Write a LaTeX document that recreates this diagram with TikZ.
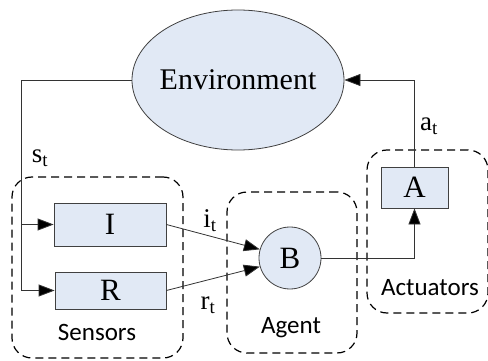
\documentclass[tikz,border=0pt]{standalone}
\usepackage{fontspec}
\setmainfont{Liberation Serif}
\newfontfamily\calfont{Carlito}
\usetikzlibrary{shapes.geometric,arrows.meta}
\definecolor{lb}{RGB}{225,233,245}
\tikzset{
  conn/.style={draw=black!80, line width=0.8pt},
  arr/.style={conn, -{Triangle[length=16pt,width=12pt,fill=black]}},
  boxnode/.style={draw=black!75, line width=0.8pt, fill=lb, inner sep=0pt, font=\fontsize{31}{31}\selectfont},
  groupbox/.style={draw=black, line width=1.2pt, dash pattern=on 8pt off 5pt, rounded corners=20pt, inner sep=0pt},
  grouplabel/.style={font=\calfont\fontsize{25}{25}\selectfont, inner sep=0pt},
  sublabel/.style={font=\fontsize{27}{27}\selectfont, inner sep=0pt}
}
\begin{document}
\begin{tikzpicture}[x=1pt,y=-1pt]
\useasboundingbox (0,0) rectangle (488,361);
% groups
\node[groupbox, minimum width=171pt, minimum height=181pt] (gsens) at (97.5,267.5) {};
\node[groupbox, minimum width=130pt, minimum height=161pt] (gagent) at (292,272.5) {};
\node[groupbox, minimum width=121pt, minimum height=163pt] (gact) at (427.5,231.5) {};
\node[grouplabel] (lsens) at (97,332) {Sensors};
\node[grouplabel] (lagent) at (291,328) {Agent};
\node[grouplabel] (lact) at (430,288) {Actuators};
% main nodes
\node[boxnode, ellipse, inner sep=-30pt, minimum width=212pt, minimum height=140pt, font=\fontsize{30}{30}\selectfont] (env) at (238,80) {Environment};
\node[boxnode, minimum width=112pt, minimum height=43pt] (I) at (110,224.5) {I};
\node[boxnode, minimum width=111pt, minimum height=37pt] (R) at (110.5,290.5) {R};
\node[boxnode, circle, minimum size=62pt] (B) at (290,258) {B};
\node[boxnode, minimum width=67pt, minimum height=41pt] (A) at (414.5,187.5) {A};
% connectors
\coordinate (cI) at (21,224.5);
\coordinate (cR) at (21,290.5);
\draw[arr] (env.west) -| (cR) -- (R.west);
\draw[arr] (cI) -- (I.west);
\draw[arr] (I.east) -- (B.164);
\draw[arr] (R.east) -- (B.196);
\draw[arr] (B.east) -| (A.south);
\draw[arr] (A.north) |- (env.east);
% labels
\node[sublabel] (st) at (40,158) {s\textsubscript{t}};
\node[sublabel] (at) at (429,126) {a\textsubscript{t}};
\node[sublabel] (it) at (210,221) {i\textsubscript{t}};
\node[sublabel] (rt) at (208,305) {r\textsubscript{t}};
\end{tikzpicture}
\end{document}
